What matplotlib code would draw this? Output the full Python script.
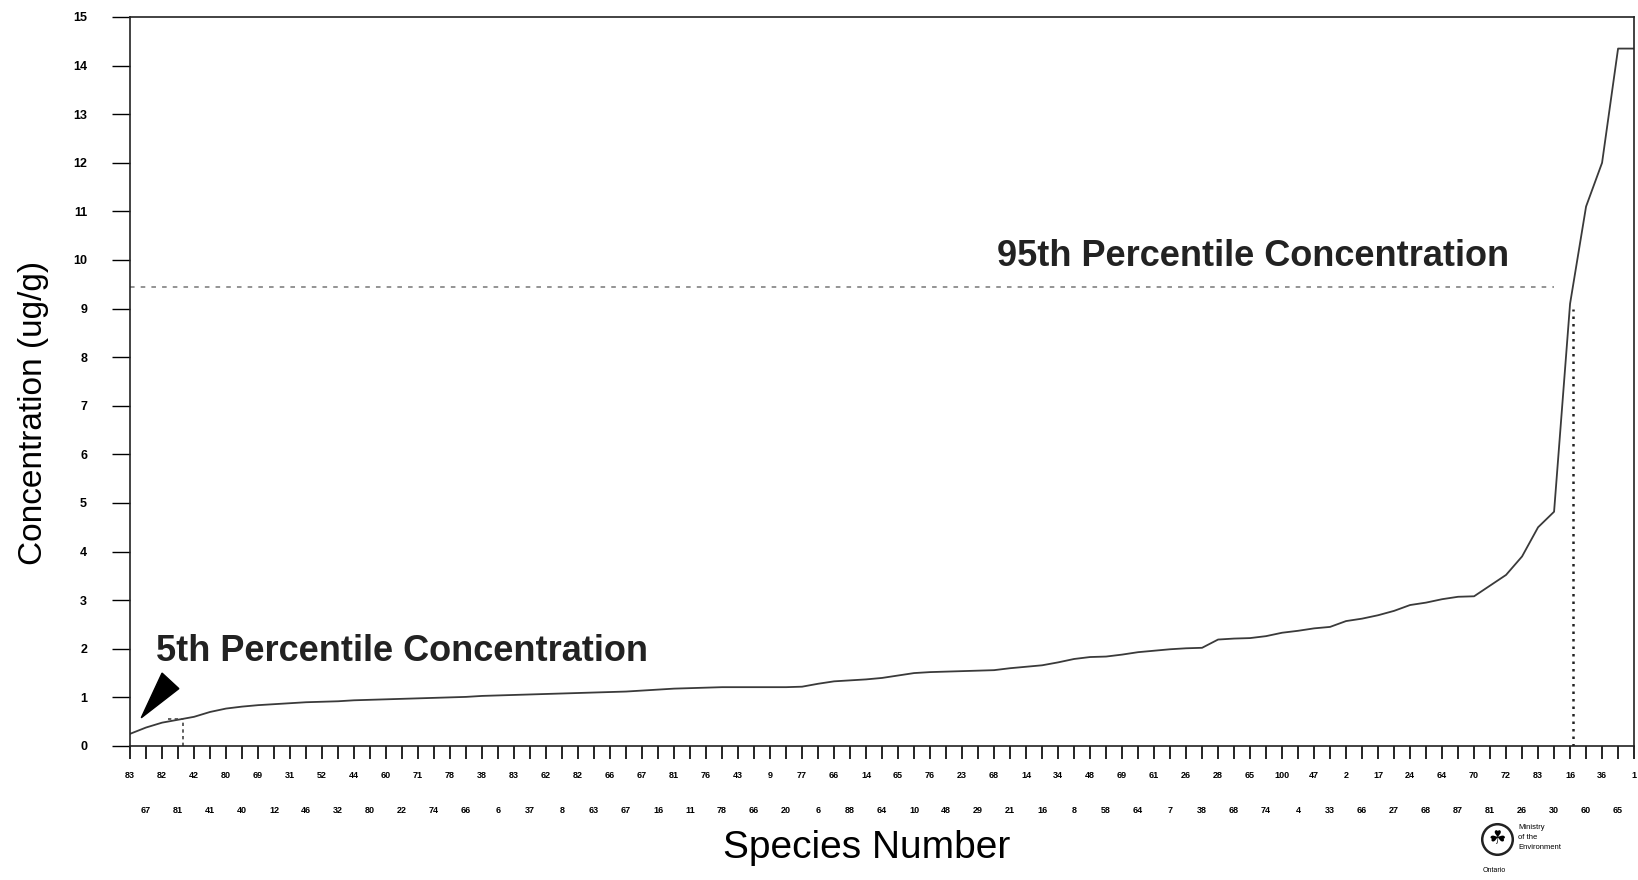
import matplotlib.pyplot as plt
from matplotlib.patches import Polygon
from matplotlib.lines import Line2D

plt.rcParams['font.family'] = ['Liberation Sans', 'DejaVu Sans']

# species numbers, in rank order (as printed under the axis)
species = ['83', '67', '82', '81', '42', '41', '80', '40', '69', '12',
           '31', '46', '52', '32', '44', '80', '60', '22', '71', '74',
           '78', '66', '38', '6', '83', '37', '62', '8', '82', '63',
           '66', '67', '67', '16', '81', '11', '76', '78', '43', '66',
           '9', '20', '77', '6', '66', '88', '14', '64', '65', '10',
           '76', '48', '23', '29', '68', '21', '14', '16', '34', '8',
           '48', '58', '69', '64', '61', '7', '26', '38', '28', '68',
           '65', '74', '100', '4', '47', '33', '2', '66', '17', '27',
           '24', '68', '64', '87', '70', '81', '72', '26', '83', '30',
           '16', '60', '36', '65', '1']

# concentration (ug/g), sorted ascending
conc = [0.25, 0.38, 0.48, 0.54, 0.60, 0.70, 0.77, 0.81, 0.84, 0.86,
        0.88, 0.90, 0.91, 0.92, 0.94, 0.95, 0.96, 0.97, 0.98, 0.99,
        1.00, 1.01, 1.03, 1.04, 1.05, 1.06, 1.07, 1.08, 1.09, 1.10,
        1.11, 1.12, 1.14, 1.16, 1.18, 1.19, 1.20, 1.21, 1.21, 1.21,
        1.21, 1.21, 1.22, 1.28, 1.33, 1.35, 1.37, 1.40, 1.45, 1.50,
        1.52, 1.53, 1.54, 1.55, 1.56, 1.60, 1.63, 1.66, 1.72, 1.79,
        1.83, 1.84, 1.88, 1.93, 1.96, 1.99, 2.01, 2.02, 2.19, 2.21,
        2.22, 2.26, 2.33, 2.37, 2.42, 2.45, 2.57, 2.62, 2.69, 2.78,
        2.90, 2.95, 3.02, 3.07, 3.08, 3.30, 3.52, 3.90, 4.50, 4.82,
        9.10, 11.10, 12.00, 14.35, 14.35]

p5_rank, p5_conc = 3.3, 0.56
p95_rank, p95_conc = 90.2, 9.45

fig = plt.figure(figsize=(16.38, 8.8), dpi=100)
ax = fig.add_axes([0.0794, 0.1523, 0.9182, 0.8284])

x = list(range(len(conc)))
ax.plot(x, conc, color='#3a3a3a', lw=1.3)

# percentile guide lines
ax.plot([0, 89.0], [p95_conc, p95_conc], color='#777777', lw=1.1,
        linestyle=(0, (3, 4)))
ax.plot([p95_rank, p95_rank], [0, 9.0], color='#222222', lw=1.8,
        linestyle=(0, (1, 2)))
ax.plot([2.4, p5_rank], [p5_conc, p5_conc], color='#444444', lw=1.2,
        linestyle=(0, (2, 2)))
ax.plot([p5_rank, p5_rank], [0, p5_conc], color='#444444', lw=1.2,
        linestyle=(0, (2, 2)))

ax.text(54.2, 10.07, '95th Percentile Concentration', fontsize=26,
        fontweight='bold', color='#222222', va='center')
ax.text(1.65, 1.95, '5th Percentile Concentration', fontsize=26,
        fontweight='bold', color='#222222', va='center')
ax.add_patch(Polygon([[0.7, 0.58], [2.0, 1.5], [3.05, 1.18]],
                     closed=True, color='black'))

ax.set_xlim(0, 94)
ax.set_ylim(0, 15)
ax.set_yticks(range(16))
ax.set_yticklabels([str(v) for v in range(16)], fontsize=9,
                   fontweight='bold')
ax.tick_params(axis='y', length=13, width=1, pad=18)

ax.set_xticks(x[::2])
ax.set_xticklabels(species[::2], fontsize=6.5, fontweight='bold')
ax.set_xticks(x[1::2], minor=True)
ax.set_xticklabels(species[1::2], minor=True, fontsize=6.5,
                   fontweight='bold')
ax.tick_params(axis='x', which='major', length=9, width=1.2, pad=9)
ax.tick_params(axis='x', which='minor', length=9, width=1.2, pad=34)

for s in ax.spines.values():
    s.set_linewidth(1.2)
    s.set_color('#222222')

fig.text(0.0205, 0.531, 'Concentration (ug/g)', fontsize=24,
         rotation=90, ha='center', va='center')
fig.text(0.529, 0.036, 'Species Number', fontsize=28, ha='center',
         va='center')

# ministry logo block
fig.add_artist(Line2D([0.9139], [0.0466], marker='o', markersize=22,
                      mfc='none', mec='#222222', mew=1.8,
                      transform=fig.transFigure))
fig.text(0.9139, 0.0466, '\u2618', fontsize=14, ha='center', va='center',
         family=['DejaVu Sans'])
fig.text(0.912, 0.011, 'Ontario', fontsize=5, ha='center', va='center')
fig.text(0.927, 0.048, 'Ministry\nof the\nEnvironment', fontsize=5.5,
         ha='left', va='center', linespacing=1.6)

fig.savefig('out.png', dpi=100)
